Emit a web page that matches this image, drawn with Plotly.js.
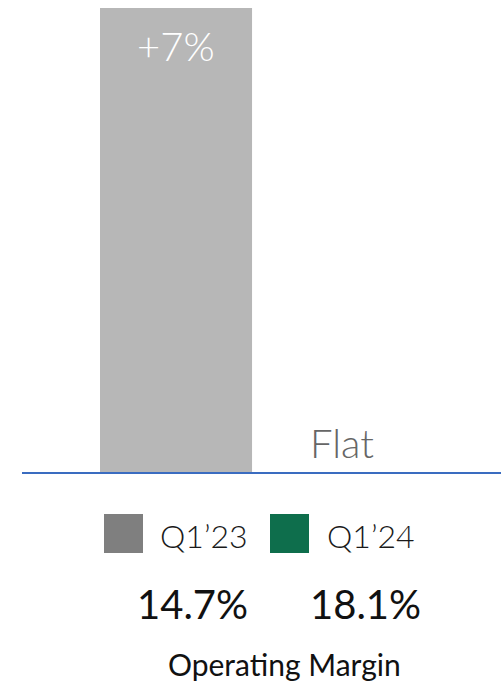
<!DOCTYPE html>
<html>
<head>
<meta charset="utf-8">
<script src="https://cdn.plot.ly/plotly-3.0.1.min.js"></script>
<style>
  html, body { margin: 0; padding: 0; background: #fff; }
  #chart { width: 501px; height: 683px; }
</style>
</head>
<body>
<div id="chart"></div>
<script>
// data
var periods = ["Q1’23", "Q1’24"];
var changeVals = [7, 0];
var changeLabels = ["+7%", "Flat"];
var marginVals = ["14.7%", "18.1%"];
var metricName = "Operating Margin";

var W = 501, H = 683;
var mar = { l: 22, r: 0, t: 8, b: 211 };
var plotW = W - mar.l - mar.r, plotH = H - mar.t - mar.b;

// pixel -> paper helpers for the legend and footer texts
function px(x) { return (x - mar.l) / plotW; }
function py(y) { return (H - mar.b - y) / plotH; }

var barTrace = {
  type: "bar",
  x: periods,
  y: changeVals,
  width: 0.916,
  marker: { color: "#b7b7b7" },
  hoverinfo: "skip",
  showlegend: false
};

var annotations = [
  {
    x: periods[0], y: changeVals[0], xref: "x", yref: "y",
    text: changeLabels[0], showarrow: false,
    yanchor: "top", yshift: -12,
    font: { family: "Lato", size: 40, color: "#ffffff", weight: 300 }
  },
  {
    x: periods[1], y: changeVals[1], xref: "x", yref: "y",
    text: changeLabels[1], showarrow: false,
    yanchor: "bottom", yshift: 3,
    font: { family: "Lato", size: 40, color: "#666666", weight: 300 }
  }
];

var legendColors = ["#7f7f7f", "#0e6e4c"];
var legendSq = [104, 270];
var legendTx = [204, 371];
var valX = [192, 365];
var shapes = [];

periods.forEach(function (p, i) {
  shapes.push({
    type: "rect", xref: "paper", yref: "paper",
    x0: px(legendSq[i]), x1: px(legendSq[i] + 39),
    y0: py(553), y1: py(514),
    fillcolor: legendColors[i], line: { width: 0 }
  });
  annotations.push({
    x: px(legendTx[i]), y: py(535), xref: "paper", yref: "paper",
    text: p, showarrow: false, xanchor: "center", yanchor: "middle",
    font: { family: "Lato", size: 32, color: "#1a1a1a", weight: 300 }
  });
  annotations.push({
    x: px(valX[i]), y: py(604), xref: "paper", yref: "paper",
    text: marginVals[i], showarrow: false, xanchor: "center", yanchor: "middle",
    font: { family: "Lato", size: 40, color: "#111111" }
  });
});

annotations.push({
  x: px(284), y: py(664), xref: "paper", yref: "paper",
  text: metricName, showarrow: false, xanchor: "center", yanchor: "middle",
  font: { family: "Lato", size: 30, color: "#111111" }
});

var layout = {
  width: W, height: H,
  margin: mar,
  paper_bgcolor: "#ffffff",
  plot_bgcolor: "#ffffff",
  showlegend: false,
  xaxis: {
    type: "category",
    range: [-0.928, 1.958],
    showticklabels: false, ticks: "",
    showgrid: false, zeroline: false,
    showline: true, linecolor: "#3a6cc0", linewidth: 1.5
  },
  yaxis: {
    range: [0, 7],
    visible: false, showgrid: false, zeroline: false
  },
  shapes: shapes,
  annotations: annotations
};

Plotly.newPlot("chart", [barTrace], layout, { displayModeBar: false, staticPlot: true });
</script>
</body>
</html>
